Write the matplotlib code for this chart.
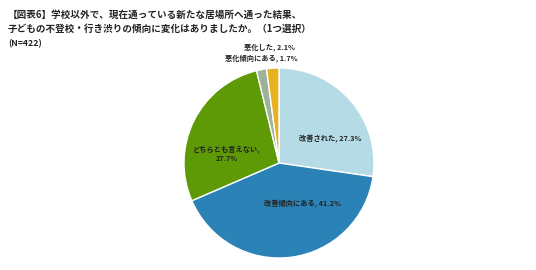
import matplotlib
matplotlib.use("Agg")
from matplotlib import pyplot as plt

plt.rcParams['font.family'] = ['Noto Sans CJK JP', 'DejaVu Sans']

# data (clockwise from 12 o'clock)
categories = ['改善された', '改善傾向にある', 'どちらとも言えない', '悪化傾向にある', '悪化した']
values = [27.3, 41.2, 27.7, 1.7, 2.1]
colors = ['#B5DCE6', '#2A82B6', '#5E9A06', '#9DB29A', '#E6B222']

title_lines = '【図表6】学校以外で、現在通っている新たな居場所へ通った結果、\n子どもの不登校・行き渋りの傾向に変化はありましたか。（1つ選択）'
n_label = '(N=422)'

# label positions in units of pie radius, with alignment
label_pos = [
    (0.54, 0.25, 'center'),
    (0.25, -0.43, 'center'),
    (-0.55, 0.10, 'center'),
    (0.20, 1.10, 'right'),
    (0.17, 1.22, 'right'),
]

fig = plt.figure(figsize=(5.36, 2.70), dpi=100)
W, H = 536, 270
cx, cy, r = 279, 163, 95
ax = fig.add_axes([(cx - r) / W, (H - cy - r) / H, 2 * r / W, 2 * r / H])
ax.pie(values, colors=colors, startangle=90, counterclock=False,
       wedgeprops=dict(edgecolor='white', linewidth=1.0))
ax.set_xlim(-1, 1)
ax.set_ylim(-1, 1)
ax.set_aspect('equal')

for cat, v, (x, y, ha) in zip(categories, values, label_pos):
    txt = f'{cat}, {v:.1f}%'
    if cat == 'どちらとも言えない':
        txt = f'{cat},\n{v:.1f}%'
    ax.text(x, y, txt, ha=ha, va='center', fontsize=5.2, fontweight='bold',
            color='#222222', linespacing=1.3)

fig.text(8 / W, 1 - 10 / H, title_lines, ha='left', va='top', fontsize=6.9,
         fontweight='bold', color='#222222', linespacing=1.45)
fig.text(8 / W, 1 - 44 / H, n_label, ha='left', va='center', fontsize=6.3,
         fontweight='bold', color='#222222')

fig.savefig('out.png', dpi=100)
